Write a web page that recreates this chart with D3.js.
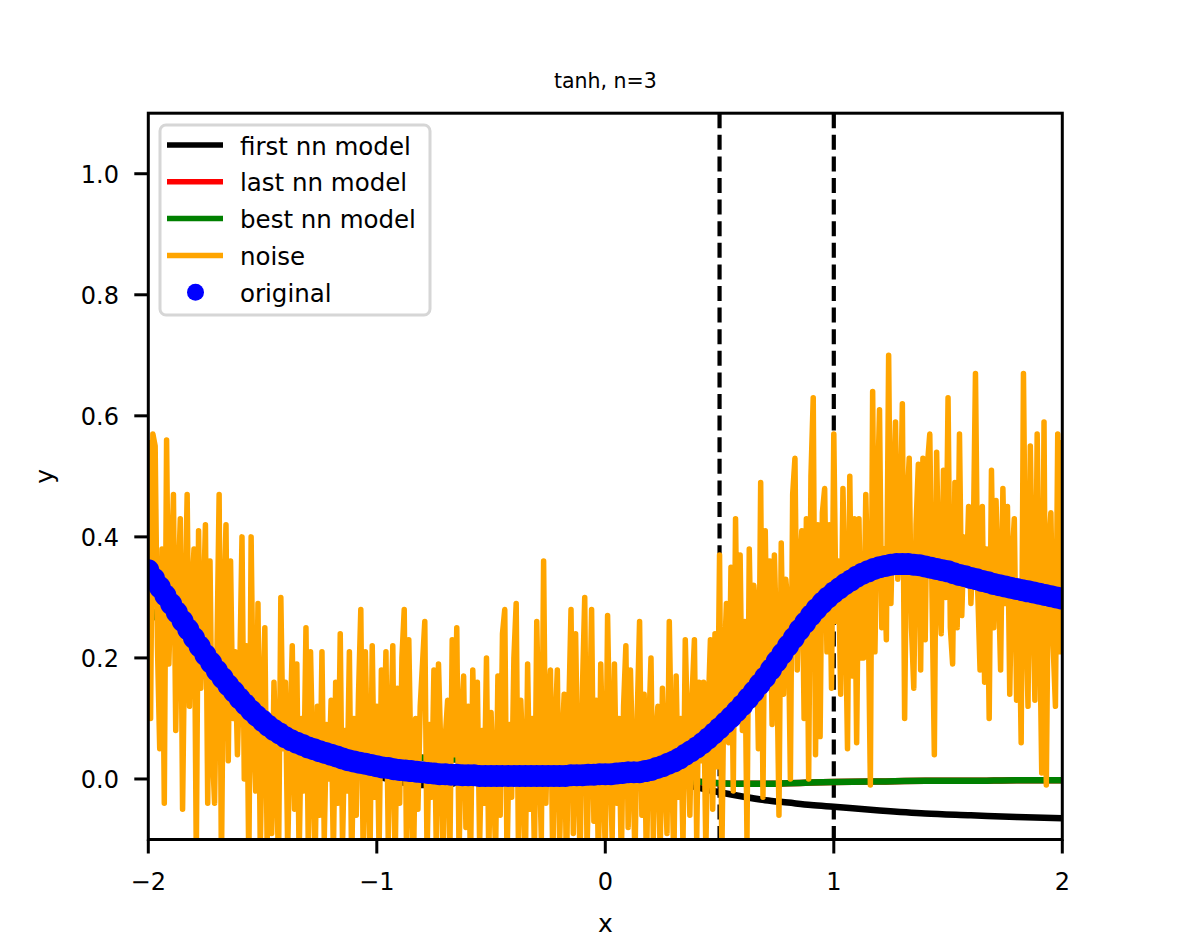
<!DOCTYPE html>
<html>
<head>
<meta charset="utf-8">
<script src="https://cdn.jsdelivr.net/npm/d3@7"></script>
<style>
  body { margin: 0; background: #fff; }
  text { font-family: "DejaVu Sans", sans-serif; fill: #000; }
</style>
</head>
<body>
<svg id="chart" width="1181" height="944"></svg>
<script>
// ticks and guides
const xTicks = [-2, -1, 0, 1, 2]
const yTicks = [0.0, 0.2, 0.4, 0.6, 0.8, 1.0]
const vLines = [0.5, 1]

// "original" points, sampled every 0.025 on [-2, 2]
const origX = d3.range(161).map(i => -2 + i * 0.025)
const origY = [
  0.345, 0.331, 0.317, 0.303, 0.289, 0.275, 0.261, 0.247, 0.233, 0.219,
  0.205, 0.192, 0.179, 0.167, 0.155, 0.144, 0.133, 0.123, 0.113, 0.104,
  0.096, 0.088, 0.081, 0.075, 0.069, 0.064, 0.060, 0.056, 0.052, 0.049,
  0.046, 0.043, 0.040, 0.037, 0.034, 0.031, 0.029, 0.027, 0.025, 0.023,
  0.021, 0.019, 0.018, 0.016, 0.015, 0.014, 0.013, 0.012, 0.011, 0.010,
  0.009, 0.008, 0.008, 0.007, 0.007, 0.006, 0.006, 0.006, 0.005, 0.005,
  0.005, 0.005, 0.005, 0.005, 0.005, 0.005, 0.005, 0.005, 0.005, 0.005,
  0.005, 0.005, 0.005, 0.005, 0.006, 0.006, 0.006, 0.007, 0.007, 0.008,
  0.008, 0.008, 0.009, 0.010, 0.011, 0.011, 0.011, 0.013, 0.015, 0.018,
  0.021, 0.025, 0.029, 0.034, 0.040, 0.046, 0.052, 0.059, 0.067, 0.075,
  0.084, 0.093, 0.102, 0.112, 0.122, 0.133, 0.144, 0.156, 0.168, 0.181,
  0.194, 0.207, 0.220, 0.233, 0.246, 0.258, 0.270, 0.281, 0.291, 0.300,
  0.308, 0.315, 0.322, 0.328, 0.334, 0.339, 0.343, 0.347, 0.350, 0.352,
  0.354, 0.355, 0.355, 0.355, 0.354, 0.353, 0.351, 0.349, 0.347, 0.345,
  0.343, 0.340, 0.337, 0.335, 0.332, 0.330, 0.327, 0.325, 0.322, 0.320,
  0.318, 0.316, 0.314, 0.312, 0.310, 0.308, 0.306, 0.304, 0.302, 0.300,
  0.298
]

// noisy samples, every 0.01 on [-2, 2]
const noiseX = d3.range(401).map(i => -2 + i * 0.01)
const noiseY = [
  0.56, 0.10, 0.57, 0.55, 0.22, 0.05, 0.38, -0.04, 0.56, 0.19,
  0.33, 0.47, 0.08, 0.31, 0.43, -0.05, 0.26, 0.47, 0.12, 0.30,
  0.38, -0.13, 0.41, 0.15, 0.27, 0.42, -0.04, 0.36, 0.05, -0.04,
  0.20, 0.47, -0.15, 0.28, 0.42, 0.03, 0.36, 0.10, 0.21, 0.04,
  0.17, 0.40, 0.00, 0.22, -0.15, 0.40, 0.09, -0.02, 0.29, -0.12,
  0.12, 0.25, -0.11, 0.08, -0.09, 0.16, 0.02, -0.14, 0.30, 0.05,
  0.16, -0.12, 0.07, 0.22, -0.05, 0.19, -0.13, 0.10, -0.02, 0.25,
  -0.11, 0.21, 0.03, -0.14, 0.12, -0.06, 0.21, -0.10, 0.09, 0.00,
  0.13, -0.13, 0.16, -0.04, 0.24, -0.11, 0.08, -0.02, 0.21, -0.15,
  0.10, -0.06, 0.14, 0.28, -0.12, 0.21, 0.02, -0.14, 0.22, -0.03,
  0.12, -0.12, 0.18, 0.04, 0.21, -0.10, 0.06, 0.22, -0.15, 0.15,
  -0.04, 0.20, 0.28, -0.12, 0.23, 0.01, -0.16, 0.10, -0.05, 0.12,
  0.19, 0.26, -0.13, 0.09, -0.03, 0.18, -0.11, 0.19, 0.05, -0.14,
  0.07, 0.13, -0.12, 0.23, 0.04, 0.25, -0.13, 0.10, 0.17, -0.08,
  0.12, -0.15, 0.18, 0.02, 0.16, -0.11, 0.08, -0.04, 0.20, -0.13,
  0.11, 0.00, -0.12, 0.17, -0.06, 0.24, 0.28, -0.14, 0.09, -0.03,
  0.20, 0.29, -0.12, 0.13, 0.03, -0.15, 0.19, -0.05, 0.10, -0.13,
  0.26, 0.06, -0.10, 0.36, -0.04, 0.12, 0.18, -0.14, 0.08, 0.18,
  -0.11, 0.05, 0.14, -0.16, 0.11, 0.28, -0.09, 0.24, 0.01, -0.13,
  0.15, 0.30, -0.12, 0.06, 0.28, -0.07, 0.13, -0.15, 0.19, 0.02,
  -0.12, 0.27, 0.05, -0.10, 0.19, -0.04, 0.10, -0.14, 0.12, 0.22,
  -0.08, 0.18, 0.03, -0.13, 0.11, 0.26, -0.06, 0.14, -0.15, 0.08,
  0.20, -0.10, 0.06, 0.12, -0.13, 0.15, 0.02, -0.09, 0.26, 0.04,
  -0.14, 0.17, -0.03, 0.10, -0.11, 0.23, 0.08, -0.06, 0.14, 0.23,
  -0.10, 0.16, 0.03, 0.16, -0.12, 0.11, 0.23, -0.05, 0.24, 0.02,
  0.37, -0.13, 0.18, 0.29, 0.06, 0.35, -0.02, 0.43, 0.12, 0.37,
  0.08, 0.26, -0.10, 0.38, 0.16, 0.32, 0.27, 0.05, 0.49, -0.03,
  0.41, 0.15, 0.36, 0.09, 0.37, 0.22, -0.06, 0.39, 0.14, 0.33,
  0.28, 0.00, 0.47, 0.53, 0.18, 0.34, 0.41, 0.10, 0.43, 0.00,
  0.50, 0.63, 0.04, 0.42, 0.07, 0.44, 0.48, 0.21, 0.42, 0.15,
  0.57, 0.26, 0.36, 0.14, 0.48, 0.30, 0.05, 0.50, 0.17, 0.43,
  0.06, 0.43, 0.20, 0.20, 0.47, 0.30, -0.01, 0.64, 0.21, 0.45,
  0.61, 0.25, 0.38, 0.23, 0.70, 0.29, 0.45, 0.59, 0.33, 0.40,
  0.62, 0.10, 0.45, 0.53, 0.25, 0.15, 0.42, 0.52, 0.18, 0.53,
  0.23, 0.52, 0.57, 0.30, 0.04, 0.54, 0.33, 0.24, 0.51, 0.30,
  0.63, 0.25, 0.19, 0.49, 0.25, 0.57, 0.27, 0.40, 0.32, 0.45,
  0.29, 0.38, 0.67, 0.31, 0.18, 0.45, 0.16, 0.38, 0.10, 0.51,
  0.25, 0.46, 0.33, 0.18, 0.48, 0.29, 0.45, 0.14, 0.36, 0.43,
  0.13, 0.31, 0.06, 0.67, 0.28, 0.12, 0.55, 0.32, 0.13, 0.57,
  0.28, 0.01, 0.59, -0.01, 0.38, 0.44, 0.22, 0.12, 0.57, 0.21,
  0.56
]

// nn model curves
const modelX = [-2, -1.8, -1.6, -1.4, -1.2, -1.0, -0.8, -0.7, -0.6, -0.5,
  -0.4, -0.3, -0.2, -0.1, 0, 0.1, 0.2, 0.3, 0.4, 0.5,
  0.6, 0.7, 0.8, 0.9, 1.0, 1.2, 1.4, 1.6, 1.8, 2.0]
const firstY = [0.33, 0.22, 0.13, 0.07, 0.03, 0.005, -0.01, -0.01, 0.003, 0.025,
  0.05, 0.065, 0.068, 0.062, 0.048, 0.03, 0.012, -0.003, -0.014, -0.022,
  -0.029, -0.035, -0.039, -0.043, -0.046, -0.052, -0.057, -0.060, -0.063, -0.065]
const lastY = [0.285, 0.19, 0.12, 0.077, 0.053, 0.041, 0.035, 0.033, 0.032, 0.031,
  0.030, 0.029, 0.028, 0.025, 0.020, 0.013, 0.006, 0.0, -0.004, -0.007,
  -0.008, -0.008, -0.007, -0.006, -0.005, -0.004, -0.003, -0.003, -0.002, -0.002]
const bestY = [0.285, 0.19, 0.12, 0.077, 0.053, 0.041, 0.035, 0.033, 0.032, 0.031,
  0.030, 0.029, 0.028, 0.025, 0.020, 0.013, 0.006, 0.0, -0.004, -0.007,
  -0.008, -0.008, -0.007, -0.006, -0.005, -0.004, -0.003, -0.003, -0.002, -0.002]

const legendItems = [
  {label: 'first nn model', color: '#000000', kind: 'line'},
  {label: 'last nn model', color: '#ff0000', kind: 'line'},
  {label: 'best nn model', color: '#008000', kind: 'line'},
  {label: 'noise', color: '#ffa500', kind: 'line'},
  {label: 'original', color: '#0000ff', kind: 'dot'}
]

const plotLeft = 148.3, plotRight = 1062.3, plotTop = 113.2, plotBottom = 839.5

const x = d3.scaleLinear().domain([-2, 2]).range([plotLeft, plotRight])
const y = d3.scaleLinear().domain([-0.1, 1.1]).range([plotBottom, plotTop])

const svg = d3.select('#chart')

svg.append('defs').append('clipPath')
    .attr('id', 'plotClip')
  .append('rect')
    .attr('x', plotLeft).attr('y', plotTop)
    .attr('width', plotRight - plotLeft).attr('height', plotBottom - plotTop)

const plot = svg.append('g').attr('clip-path', 'url(#plotClip)')

// dashed guides
plot.selectAll('.vline')
  .data(vLines)
  .enter()
    .append('line')
    .attr('x1', d => x(d)).attr('x2', d => x(d))
    .attr('y1', plotTop).attr('y2', plotBottom)
    .attr('stroke', '#000')
    .attr('stroke-width', 4.2)
    .attr('stroke-dasharray', '15,6.6')

const curve = d3.line()
  .x(d => x(d[0]))
  .y(d => y(d[1]))
  .curve(d3.curveMonotoneX)

const models = [
  {ys: firstY, color: '#000000'},
  {ys: lastY, color: '#ff0000'},
  {ys: bestY, color: '#008000'}
]

models.forEach(m => {
  plot.append('path')
    .datum(modelX.map((v, i) => [v, m.ys[i]]))
    .attr('d', curve)
    .attr('fill', 'none')
    .attr('stroke', m.color)
    .attr('stroke-width', 6.5)
})

const noiseLine = d3.line()
  .x(d => x(d[0]))
  .y(d => y(d[1]))

plot.append('path')
  .datum(noiseX.map((v, i) => [v, noiseY[i]]))
  .attr('d', noiseLine)
  .attr('fill', 'none')
  .attr('stroke', '#ffa500')
  .attr('stroke-width', 5.5)
  .attr('stroke-linejoin', 'round')

plot.selectAll('.orig')
  .data(origX.map((v, i) => [v, origY[i]]))
  .enter()
    .append('circle')
    .attr('cx', d => x(d[0]))
    .attr('cy', d => y(d[1]))
    .attr('r', 11)
    .attr('fill', '#0000ff')

// axes
const axisG = svg.append('g')

axisG.selectAll('.xtick')
  .data(xTicks)
  .enter()
    .append('line')
    .attr('x1', d => x(d)).attr('x2', d => x(d))
    .attr('y1', plotBottom).attr('y2', plotBottom + 14)
    .attr('stroke', '#000').attr('stroke-width', 3)

axisG.selectAll('.xlab')
  .data(xTicks)
  .enter()
    .append('text')
    .attr('x', d => x(d))
    .attr('y', 890)
    .attr('text-anchor', 'middle')
    .style('font-size', '24px')
    .text(d => d < 0 ? '\u2212' + Math.abs(d) : d)

axisG.selectAll('.ytick')
  .data(yTicks)
  .enter()
    .append('line')
    .attr('x1', plotLeft - 14).attr('x2', plotLeft)
    .attr('y1', d => y(d)).attr('y2', d => y(d))
    .attr('stroke', '#000').attr('stroke-width', 3)

axisG.selectAll('.ylab')
  .data(yTicks)
  .enter()
    .append('text')
    .attr('x', 119)
    .attr('y', d => y(d) + 9)
    .attr('text-anchor', 'end')
    .style('font-size', '24px')
    .text(d => d.toFixed(1))

axisG.append('rect')
  .attr('x', plotLeft).attr('y', plotTop)
  .attr('width', plotRight - plotLeft).attr('height', plotBottom - plotTop)
  .attr('fill', 'none')
  .attr('stroke', '#000')
  .attr('stroke-width', 3)

svg.append('text')
  .attr('x', (plotLeft + plotRight) / 2)
  .attr('y', 932)
  .attr('text-anchor', 'middle')
  .style('font-size', '25px')
  .text('x')

svg.append('text')
  .attr('transform', `translate(53,${(plotTop + plotBottom) / 2}) rotate(-90)`)
  .attr('text-anchor', 'middle')
  .style('font-size', '25px')
  .text('y')

svg.append('text')
  .attr('x', (plotLeft + plotRight) / 2)
  .attr('y', 88)
  .attr('text-anchor', 'middle')
  .style('font-size', '20.5px')
  .text('tanh, n=3')

// legend
const legend = svg.append('g')

legend.append('rect')
  .attr('x', 160).attr('y', 125)
  .attr('width', 270).attr('height', 190)
  .attr('rx', 6).attr('ry', 6)
  .attr('fill', '#fff')
  .attr('stroke', '#d6d6d6')
  .attr('stroke-width', 3)

const rowY = i => 145 + i * 36.8

legendItems.forEach((item, i) => {
  if (item.kind === 'line') {
    legend.append('line')
      .attr('x1', 167).attr('x2', 223)
      .attr('y1', rowY(i)).attr('y2', rowY(i))
      .attr('stroke', item.color)
      .attr('stroke-width', 5.5)
  } else {
    legend.append('circle')
      .attr('cx', 195.5).attr('cy', rowY(i))
      .attr('r', 8.5)
      .attr('fill', item.color)
  }
  legend.append('text')
    .attr('x', 240)
    .attr('y', rowY(i) + 9.5)
    .style('font-size', '24.5px')
    .text(item.label)
})
</script>
</body>
</html>
